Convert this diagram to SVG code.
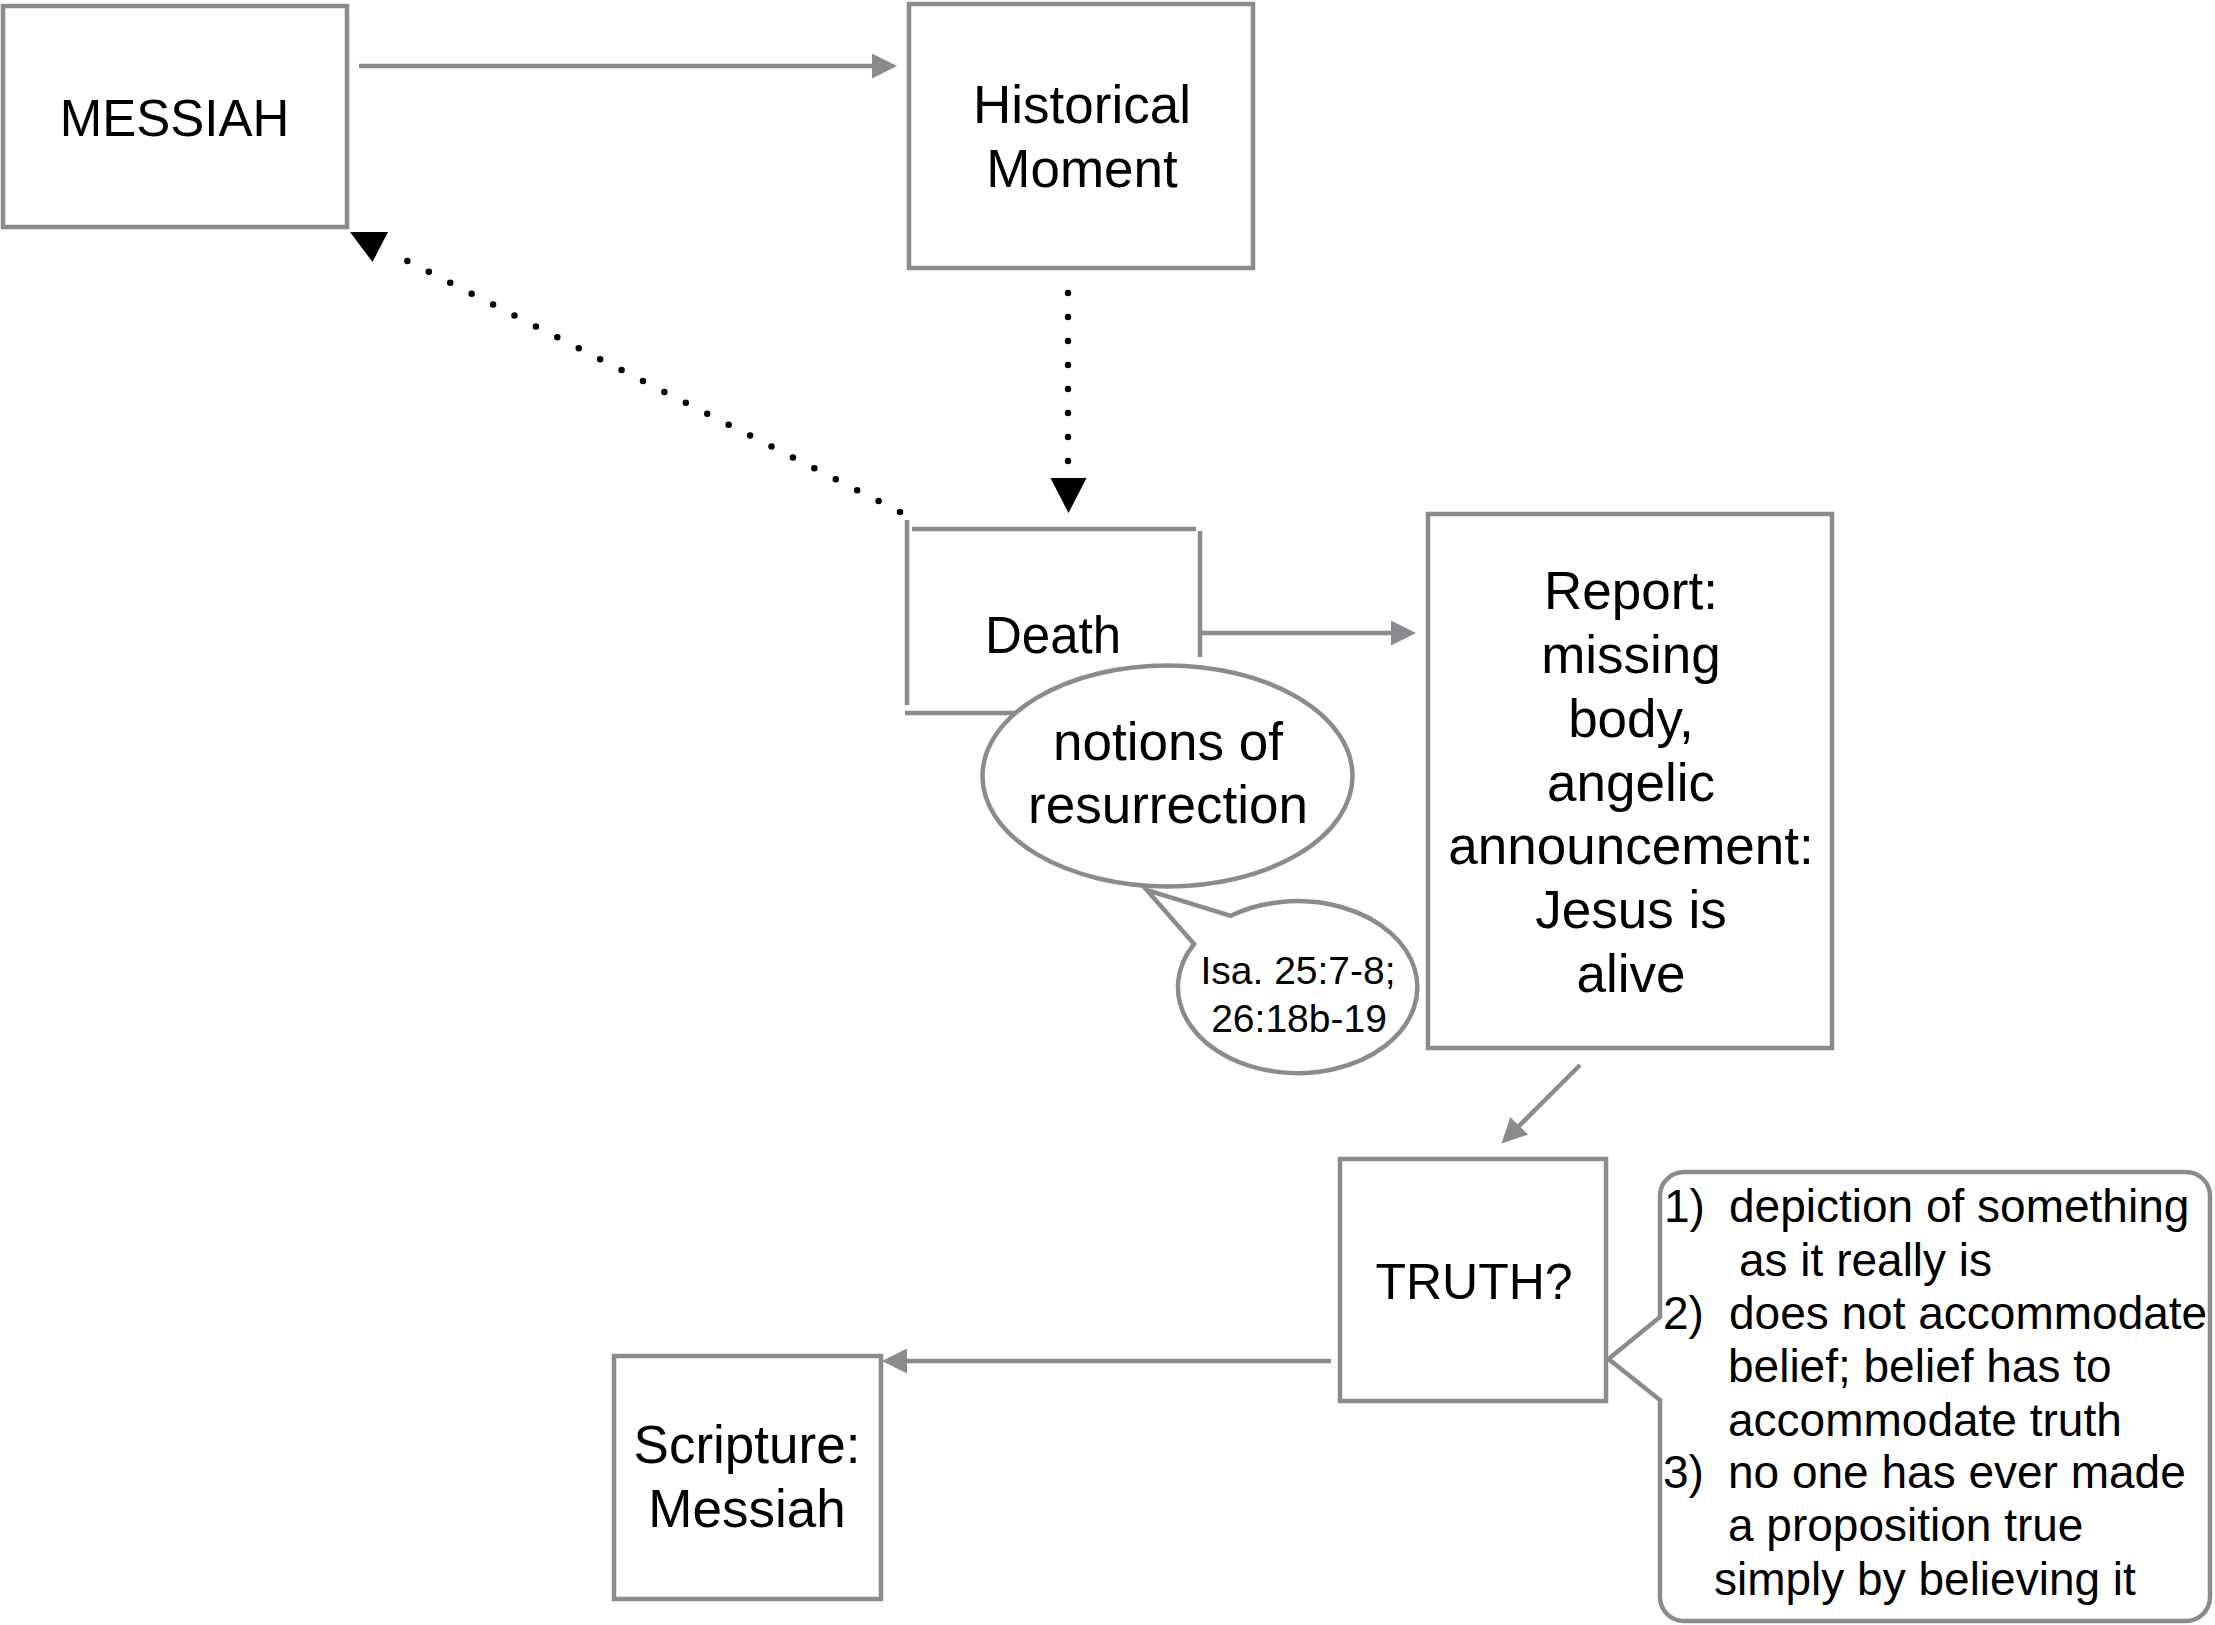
<svg xmlns="http://www.w3.org/2000/svg" width="2215" height="1625" viewBox="0 0 2215 1625">
<style>
.box{fill:#fff;stroke:#898b8e;stroke-width:4.5}
.ln{fill:none;stroke:#898b8e;stroke-width:4.5}
.ar{fill:none;stroke:#898b8e;stroke-width:4.5;marker-end:url(#ah)}
.dot{fill:none;stroke:#000;stroke-width:6.5;stroke-linecap:round}
.t{font-family:"Liberation Sans",Arial,sans-serif;fill:#000;text-anchor:middle}
.s{font-family:"Liberation Sans",Arial,sans-serif;fill:#000;font-size:46px}
</style>
<defs>
<marker id="ah" markerUnits="userSpaceOnUse" markerWidth="25" markerHeight="25" refX="15" refY="12.5" orient="auto">
<path d="M0,0 L25,12.5 L0,25 z" fill="#898b8e"/>
</marker>
</defs>
<rect width="2215" height="1625" fill="#fff"/>
<g id="connectors">
<line class="ar" x1="359" y1="66" x2="887" y2="66"/>
<line class="ar" x1="1202" y1="633" x2="1406" y2="633"/>
<line class="ar" x1="1580" y1="1065" x2="1508.6" y2="1136.4"/>
<line class="ar" x1="1331" y1="1361" x2="892" y2="1361"/>
<line class="dot" x1="1068" y1="293" x2="1068" y2="462" stroke-dasharray="0 24"/>
<polygon points="1050.5,478 1086.5,478 1068.5,513" fill="#000"/>
<line class="dot" x1="900" y1="512" x2="386" y2="250" stroke-dasharray="0 24.04"/>
<polygon points="350,232 388,232 372.5,262" fill="#000"/>
</g>
<g id="messiah">
<rect class="box" x="3" y="6" width="344" height="221"/>
<text class="t" x="174.5" y="136" font-size="51">MESSIAH</text>
</g>
<g id="historical-moment">
<rect class="box" x="909" y="4" width="344" height="264"/>
<text class="t" x="1082" y="123" font-size="53">Historical</text>
<text class="t" x="1082" y="187" font-size="53">Moment</text>
</g>
<g id="death">
<line class="ln" x1="907" y1="520" x2="907" y2="705"/>
<line class="ln" x1="912" y1="529" x2="1196" y2="529"/>
<line class="ln" x1="1200" y1="531" x2="1200" y2="657"/>
<line class="ln" x1="905" y1="713" x2="1110" y2="713"/>
<text class="t" x="1053" y="653" font-size="51">Death</text>
</g>
<g id="notions">
<ellipse class="box" cx="1167.5" cy="776" rx="185" ry="110.5"/>
<text class="t" x="1168" y="760" font-size="53">notions of</text>
<text class="t" x="1168" y="823" font-size="53">resurrection</text>
</g>
<g id="isaiah">
<path class="box" d="M1230.8,915.8 A119.7,86 0 1 1 1194.1,944 L1146.7,890 Z"/>
<text class="t" x="1298" y="984" font-size="39">Isa. 25:7-8;</text>
<text class="t" x="1299" y="1032" font-size="39">26:18b-19</text>
</g>
<g id="report">
<rect class="box" x="1428" y="514" width="404" height="534"/>
<text class="t" x="1631" y="609" font-size="53">Report:</text>
<text class="t" x="1631" y="673" font-size="53">missing</text>
<text class="t" x="1631" y="737" font-size="53">body,</text>
<text class="t" x="1631" y="801" font-size="53">angelic</text>
<text class="t" x="1631" y="864" font-size="53">announcement:</text>
<text class="t" x="1631" y="928" font-size="53">Jesus is</text>
<text class="t" x="1631" y="992" font-size="53">alive</text>
</g>
<g id="truth">
<rect class="box" x="1340" y="1159" width="266" height="242"/>
<text class="t" x="1474" y="1299" font-size="50">TRUTH?</text>
</g>
<g id="scripture">
<rect class="box" x="614" y="1356" width="267" height="243"/>
<text class="t" x="747" y="1463" font-size="53">Scripture:</text>
<text class="t" x="747" y="1527" font-size="53">Messiah</text>
</g>
<g id="truth-notes">
<path class="box" d="M1684,1172 H2186 A24,24 0 0 1 2210,1196 V1597 A24,24 0 0 1 2186,1621 H1684 A24,24 0 0 1 1660,1597 V1400 L1608.5,1359 L1660,1317 V1196 A24,24 0 0 1 1684,1172 Z"/>
<text class="s" x="1664" y="1222">1)</text>
<text class="s" x="1729" y="1222">depiction of something</text>
<text class="s" x="1739" y="1276">as it really is</text>
<text class="s" x="1663" y="1329">2)</text>
<text class="s" x="1729" y="1329">does not accommodate</text>
<text class="s" x="1728" y="1382">belief; belief has to</text>
<text class="s" x="1728" y="1436">accommodate truth</text>
<text class="s" x="1663" y="1488">3)</text>
<text class="s" x="1728" y="1488">no one has ever made</text>
<text class="s" x="1728" y="1541">a proposition true</text>
<text class="s" x="1714" y="1595">simply by believing it</text>
</g>
</svg>
